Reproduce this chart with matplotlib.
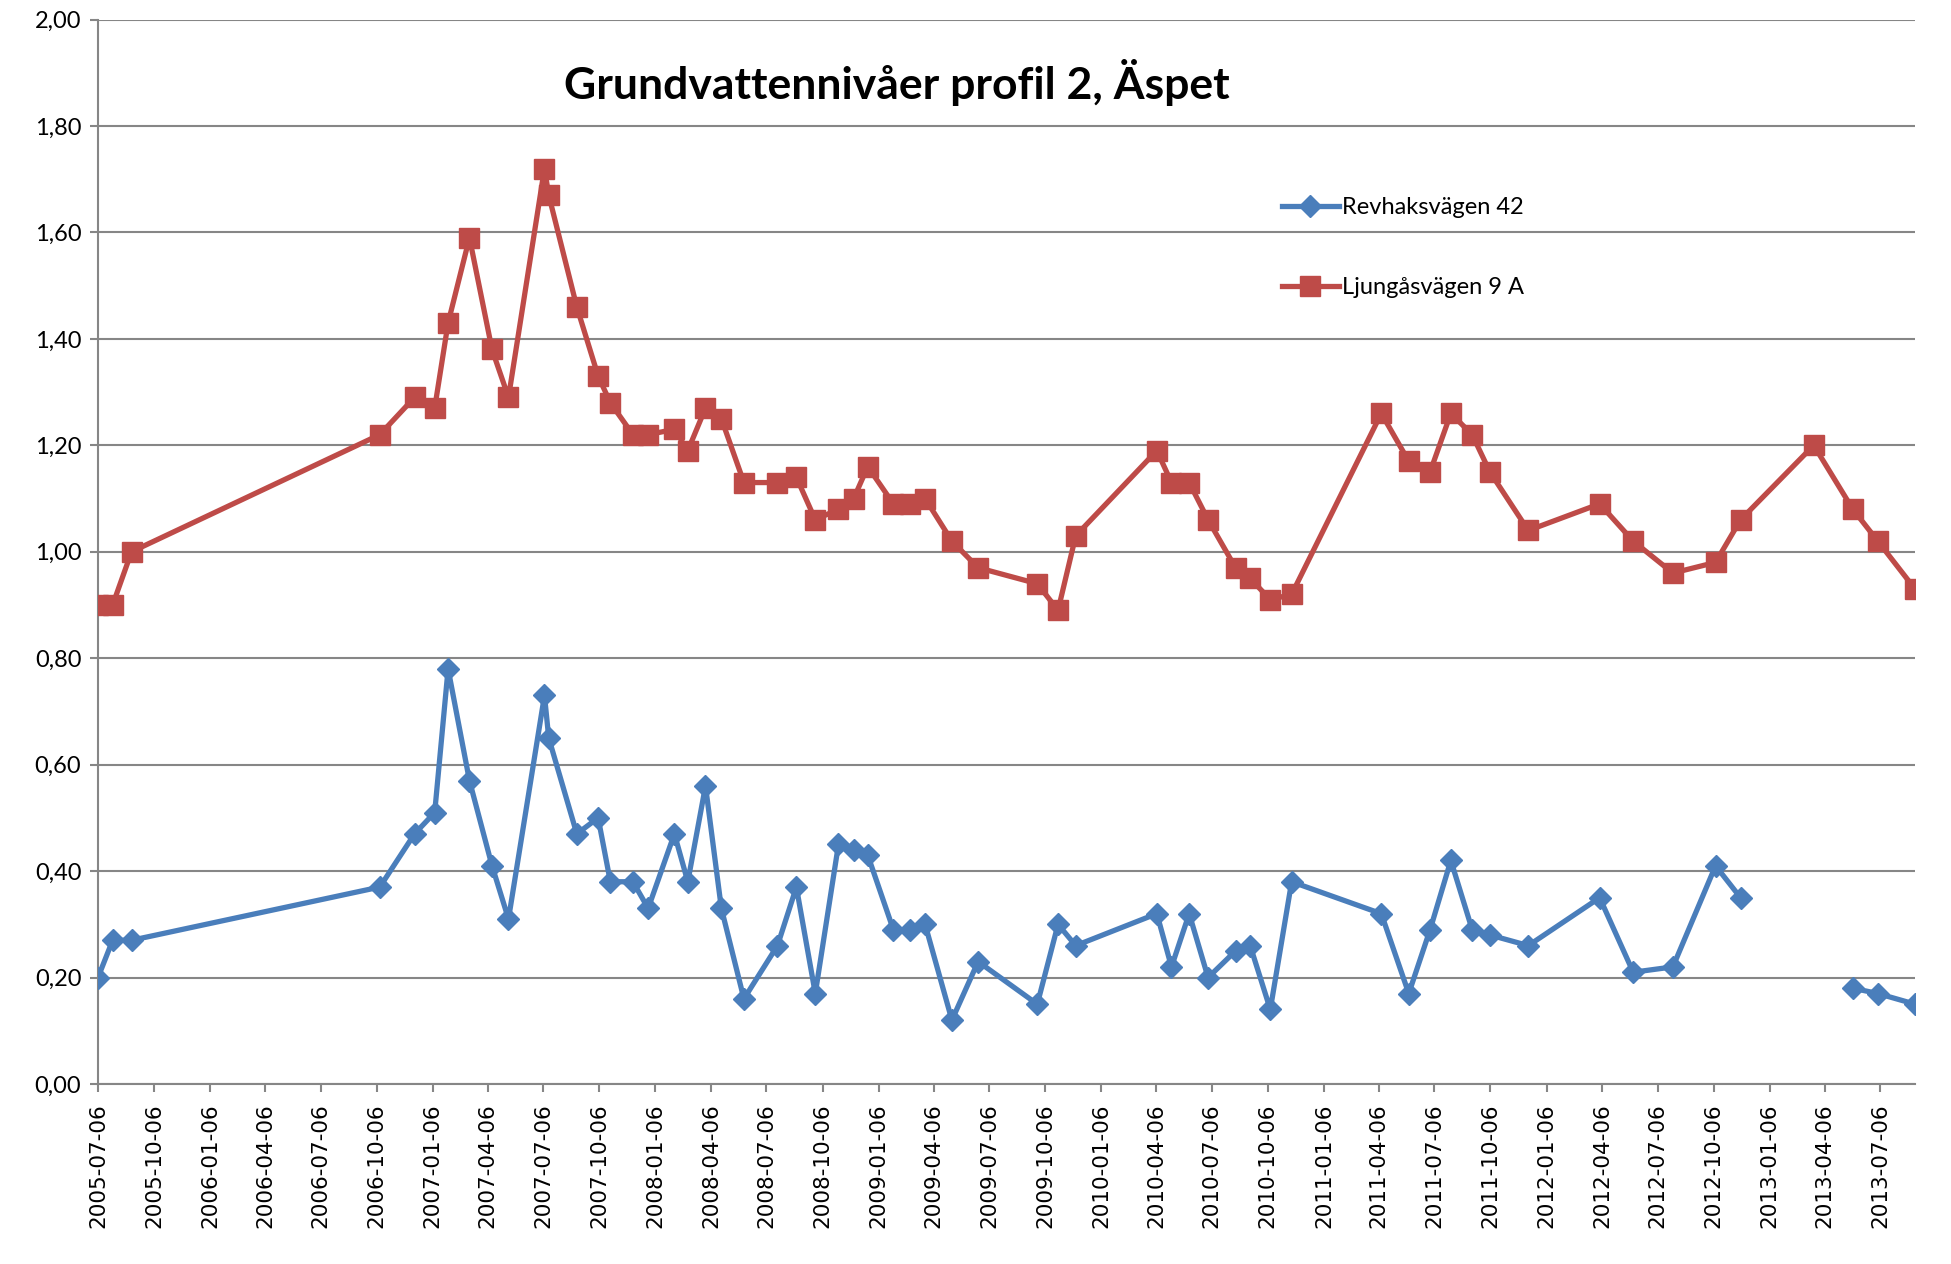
import matplotlib
matplotlib.use("Agg")
import matplotlib.pyplot as plt
import matplotlib.dates as mdates
from matplotlib.ticker import FixedLocator, FuncFormatter
import numpy as np
import pandas as pd

# measurement dates (shared by both wells)
dates = [
    "2005-07-06", "2005-07-30", "2005-08-30", "2006-10-11", "2006-12-07",
    "2007-01-09", "2007-01-31", "2007-03-07", "2007-04-13", "2007-05-10",
    "2007-07-08", "2007-07-15", "2007-08-30", "2007-10-04", "2007-10-24",
    "2007-11-30", "2007-12-25", "2008-02-06", "2008-02-28", "2008-03-28",
    "2008-04-23", "2008-05-30", "2008-07-24", "2008-08-24", "2008-09-24",
    "2008-11-01", "2008-11-26", "2008-12-19", "2009-01-30", "2009-02-26",
    "2009-03-23", "2009-05-06", "2009-06-18", "2009-09-23", "2009-10-27",
    "2009-11-25", "2010-04-07", "2010-05-01", "2010-05-30", "2010-06-30",
    "2010-08-14", "2010-09-07", "2010-10-10", "2010-11-14", "2011-04-10",
    "2011-05-25", "2011-06-29", "2011-08-02", "2011-09-06", "2011-10-05",
    "2011-12-07", "2012-04-02", "2012-05-27", "2012-07-31", "2012-10-09",
    "2012-11-19", "2013-03-19", "2013-05-22", "2013-07-02", "2013-09-01",
]

revhak = [
    0.20, 0.27, 0.27, 0.37, 0.47, 0.51, 0.78, 0.57, 0.41, 0.31,
    0.73, 0.65, 0.47, 0.50, 0.38, 0.38, 0.33, 0.47, 0.38, 0.56,
    0.33, 0.16, 0.26, 0.37, 0.17, 0.45, 0.44, 0.43, 0.29, 0.29,
    0.30, 0.12, 0.23, 0.15, 0.30, 0.26, 0.32, 0.22, 0.32, 0.20,
    0.25, 0.26, 0.14, 0.38, 0.32, 0.17, 0.29, 0.42, 0.29, 0.28,
    0.26, 0.35, 0.21, 0.22, 0.41, 0.35, np.nan, 0.18, 0.17, 0.15,
]

ljungas = [
    0.90, 0.90, 1.00, 1.22, 1.29, 1.27, 1.43, 1.59, 1.38, 1.29,
    1.72, 1.67, 1.46, 1.33, 1.28, 1.22, 1.22, 1.23, 1.19, 1.27,
    1.25, 1.13, 1.13, 1.14, 1.06, 1.08, 1.10, 1.16, 1.09, 1.09,
    1.10, 1.02, 0.97, 0.94, 0.89, 1.03, 1.19, 1.13, 1.13, 1.06,
    0.97, 0.95, 0.91, 0.92, 1.26, 1.17, 1.15, 1.26, 1.22, 1.15,
    1.04, 1.09, 1.02, 0.96, 0.98, 1.06, 1.20, 1.08, 1.02, 0.93,
]

# quarterly ticks starting at the first measurement
tick_dates = pd.date_range("2005-07-06", "2013-07-06", freq=pd.DateOffset(months=3))

x = pd.to_datetime(dates)

fig = plt.figure(figsize=(19.51, 12.64), dpi=100)
ax = fig.add_axes([98 / 1951, 1 - 1084 / 1264, (1915 - 98) / 1951, (1084 - 19.5) / 1264])

blue = "#4A7EBB"
red = "#BE4B48"
grid_col = "#868686"

ax.plot(x, revhak, color=blue, lw=3.8, marker="D", ms=11.5, mec=blue,
        label="Revhaksvägen 42", zorder=3)
ax.plot(x, ljungas, color=red, lw=3.8, marker="s", ms=15, mec=red,
        label="Ljungåsvägen 9 A", zorder=3)

ax.set_xlim(x[0], x[-1])
ax.set_ylim(0, 2.0)

ax.set_yticks(np.arange(0, 2.01, 0.2))
ax.yaxis.set_major_formatter(FuncFormatter(lambda v, p: ("%.2f" % v).replace(".", ",")))
ax.yaxis.grid(True, color=grid_col, lw=1.5)
ax.set_axisbelow(True)

ax.xaxis.set_major_locator(FixedLocator(mdates.date2num(tick_dates)))
ax.xaxis.set_major_formatter(mdates.DateFormatter("%Y-%m-%d"))

for lab in ax.get_xticklabels():
    lab.set_rotation(90)
    lab.set_fontfamily("DejaVu Sans")
    lab.set_fontsize(15.5)
for lab in ax.get_yticklabels():
    lab.set_fontfamily("Lato")
    lab.set_fontsize(17)

ax.tick_params(axis="both", color=grid_col, width=1.5, length=6, pad=6)
ax.tick_params(axis="x", pad=8)

for side in ["top", "right"]:
    ax.spines[side].set_visible(False)
for side in ["left", "bottom"]:
    ax.spines[side].set_color(grid_col)
    ax.spines[side].set_linewidth(1.5)

fig.text(897 / 1951, 1 - 83 / 1264, "Grundvattennivåer profil 2, Äspet",
         ha="center", va="center", fontsize=32, fontweight="bold", family="Lato")

leg = ax.legend(loc="upper left", bbox_to_anchor=(1282 / 1951, 1 - 197 / 1264),
                bbox_transform=fig.transFigure, frameon=False, numpoints=1,
                handlelength=2.4, handletextpad=0.15, labelspacing=2.5,
                borderpad=0, borderaxespad=0, prop={"family": "Lato", "size": 17})

fig.savefig("out.png", dpi=100)
